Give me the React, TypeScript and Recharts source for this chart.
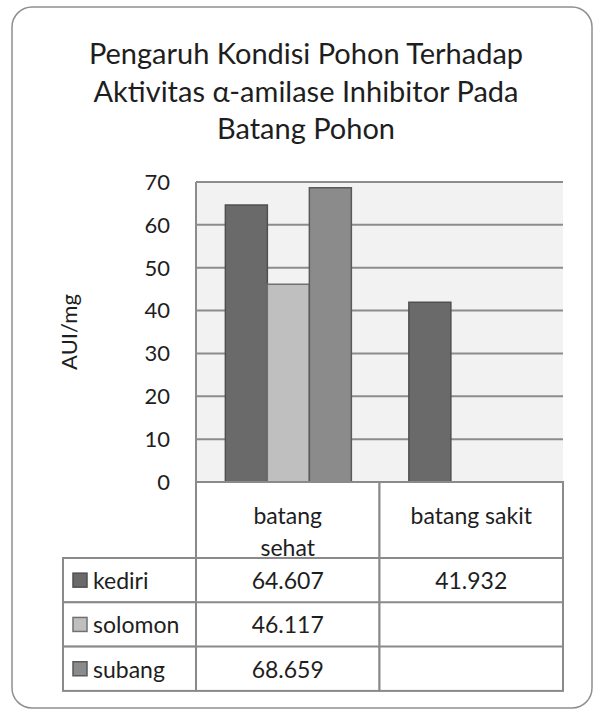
import { BarChart, Bar, XAxis, YAxis, CartesianGrid } from 'recharts'

// kategori dan nilai (AUI/mg)
const categories = ['batang sehat', 'batang sakit']
const categoryLines = [['batang', 'sehat'], ['batang sakit']]
const kediri = [64.607, 41.932]
const solomon = [46.117, null]
const subang = [68.659, null]
const yTicks = [0, 10, 20, 30, 40, 50, 60, 70]

const series = [
  { key: 'kediri', values: kediri, fill: '#6a6a6a', stroke: '#505050' },
  { key: 'solomon', values: solomon, fill: '#bfbfbf', stroke: '#707070' },
  { key: 'subang', values: subang, fill: '#8b8b8b', stroke: '#5a5a5a' },
]

const data = categories.map((name, i) => ({
  name,
  kediri: kediri[i],
  solomon: solomon[i],
  subang: subang[i],
}))

const W = 595
const H = 711
const PLOT_L = 196
const PLOT_R = 563
const PLOT_T = 182
const PLOT_B = 482
const FONT = 'Lato, "Open Sans", sans-serif'
const LINE = '#8a8a8a'
const TXT = '#1e1e1e'

const HEADER_H = 76
const ROW_H = 44.3
const LEGEND_L = 63

// tabel data di bawah sumbu x
function TableTick(props: any) {
  const { x, y, payload } = props
  const idx = categories.indexOf(payload.value)
  const hw = (PLOT_R - PLOT_L) / categories.length / 2
  const lines = categoryLines[idx]
  const top = y
  return (
    <g>
      <rect x={x - hw} y={top} width={hw * 2} height={HEADER_H + ROW_H * series.length}
        fill="#fff" stroke={LINE} strokeWidth={2} />
      {lines.map((l, j) => (
        <text key={j} x={x} y={top + (lines.length === 1 ? 33 : 33 + j * 32)}
          textAnchor="middle" dominantBaseline="central"
          fontFamily={FONT} fontSize={23} fill={TXT}>{l}</text>
      ))}
      {series.map((s, r) => {
        const ry = top + HEADER_H + r * ROW_H
        const v = s.values[idx]
        return (
          <g key={s.key}>
            <line x1={x - hw} x2={x + hw} y1={ry} y2={ry} stroke={LINE} strokeWidth={2} />
            {v != null && (
              <text x={x} y={ry + ROW_H / 2} textAnchor="middle" dominantBaseline="central"
                fontFamily={FONT} fontSize={23} fill={TXT}>{v.toFixed(3)}</text>
            )}
            {idx === 0 && (
              <g>
                <rect x={LEGEND_L} y={ry} width={x - hw - LEGEND_L} height={ROW_H}
                  fill="#fff" stroke={LINE} strokeWidth={2} />
                <rect x={LEGEND_L + 10} y={ry + ROW_H / 2 - 7} width={14} height={14}
                  fill={s.fill} stroke={s.stroke} strokeWidth={1.5} />
                <text x={LEGEND_L + 30} y={ry + ROW_H / 2} dominantBaseline="central"
                  fontFamily={FONT} fontSize={23} fill={TXT}>{s.key}</text>
              </g>
            )}
          </g>
        )
      })}
    </g>
  )
}

export default function App() {
  return (
    <div style={{ position: 'absolute', left: 0, top: 0, width: W, height: H, background: '#fff' }}>
      <svg width={W} height={H} style={{ position: 'absolute', left: 0, top: 0 }}>
        <rect x={12} y={7} width={580} height={701} rx={20} fill="none" stroke="#8f8f8f" strokeWidth={1.5} />
        <text x={68} y={332} transform="rotate(-90 68 332)" textAnchor="middle" dominantBaseline="central"
          fontFamily={FONT} fontSize={22} fill={TXT}>AUI/mg</text>
      </svg>
      <div style={{
        position: 'absolute', left: 12, width: 588, top: 34, textAlign: 'center',
        fontFamily: FONT, fontSize: 29, lineHeight: '37.5px', color: TXT,
      }}>
        Pengaruh Kondisi Pohon Terhadap<br />
        Aktivitas α-amilase Inhibitor Pada<br />
        Batang Pohon
      </div>
      <div style={{ position: 'absolute', left: 0, top: 0 }}>
        <BarChart width={W} height={H} data={data}
          margin={{ top: PLOT_T, right: W - PLOT_R, bottom: 0, left: PLOT_L - 60 }}
          barGap={0} barCategoryGap="16%">
          <CartesianGrid vertical={false} fill="#f2f2f2" stroke="#8c8c8c" strokeWidth={2} />
          <YAxis domain={[0, 70]} ticks={yTicks} width={60} tickLine={false} tickSize={0} tickMargin={26}
            axisLine={{ stroke: '#8c8c8c', strokeWidth: 2 }}
            tick={{ fontFamily: FONT, fontSize: 22, fill: TXT }} />
          <XAxis dataKey="name" height={H - PLOT_B} axisLine={false} tickLine={false} tickSize={0}
            tickMargin={0} interval={0} tick={<TableTick />} />
          {series.map(s => (
            <Bar key={s.key} dataKey={s.key} fill={s.fill} stroke={s.stroke} strokeWidth={1.5}
              isAnimationActive={false} />
          ))}
        </BarChart>
      </div>
    </div>
  )
}
